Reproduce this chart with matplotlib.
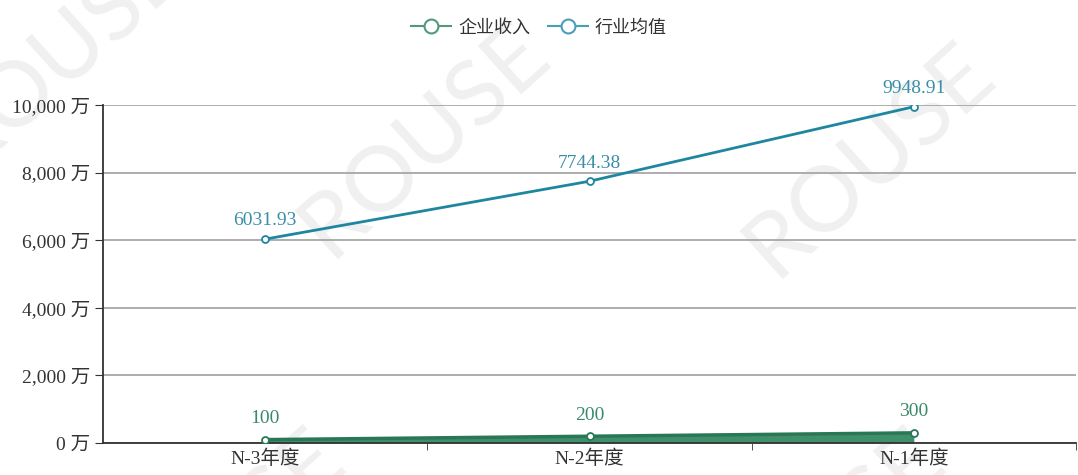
import matplotlib
matplotlib.use("Agg")
import matplotlib.pyplot as plt
from matplotlib.lines import Line2D
from matplotlib.ticker import FuncFormatter

categories = ["N-3年度", "N-2年度", "N-1年度"]
company = [100, 200, 300]
industry = [6031.93, 7744.38, 9948.91]
y_ticks = [0, 2000, 4000, 6000, 8000, 10000]
series_names = ["企业收入", "行业均值"]

GREEN = "#2a7755"
GREEN_FILL = "#3f8f6d"
BLUE = "#1f86a0"
FONT = ["Liberation Serif", "Noto Sans CJK SC"]
CJK = ["Noto Sans CJK SC", "DejaVu Sans"]

fig = plt.figure(figsize=(10.78, 4.75), dpi=100)
ax = fig.add_axes([103 / 1078, 1 - 443 / 475, 973 / 1078, 338 / 475])

# watermark, behind everything
for x, y in [(60, 55), (425, 140), (870, 160), (220, 545), (820, 545)]:
    fig.text(x / 1078, 1 - y / 475, "ROUSE", fontsize=66, color="#f0f0f0", rotation=42,
             ha="center", va="center", family="Lato", zorder=-1)

xs = range(len(categories))
ax.fill_between(xs, 0, company, color=GREEN_FILL, zorder=2, lw=0)
ax.plot(xs, company, color=GREEN, lw=2.5, marker="o", ms=5, mfc="white",
        mec=GREEN, mew=1.3, zorder=4)
ax.plot(xs, industry, color=BLUE, lw=2, marker="o", ms=5, mfc="white",
        mec=BLUE, mew=1.3, zorder=4)

for i, v in enumerate(company):
    ax.annotate(f"{v}", (i, v), xytext=(0, 9), textcoords="offset points",
                ha="center", va="bottom", color="#3a8a6a", fontsize=14, family=FONT)
for i, v in enumerate(industry):
    ax.annotate(f"{v:.2f}", (i, v), xytext=(0, 7), textcoords="offset points",
                ha="center", va="bottom", color="#3a8fa8", fontsize=14, family=FONT)

ax.set_xlim(-0.5, len(categories) - 0.5)
ax.set_ylim(0, 10000)
ax.set_yticks(y_ticks)
ax.yaxis.set_major_formatter(FuncFormatter(lambda v, p: f"{int(v):,} 万"))
ax.set_xticks(list(xs))
ax.set_xticklabels(categories)
ax.set_xticks([0.5, 1.5, 2.5], minor=True)
ax.tick_params(axis="x", which="major", length=0, pad=5)
ax.tick_params(axis="x", which="minor", length=5, color="#333333")
ax.tick_params(axis="y", length=6, color="#333333", pad=3)
for lbl in ax.get_xticklabels() + ax.get_yticklabels():
    lbl.set_family(FONT)
    lbl.set_fontsize(14)
    lbl.set_color("#333333")

ax.grid(axis="y", color="#a0a0a0", lw=1.2, zorder=1)
ax.set_axisbelow(True)
for s in ("top", "right"):
    ax.spines[s].set_visible(False)
for s in ("left", "bottom"):
    ax.spines[s].set_color("#333333")
    ax.spines[s].set_linewidth(1.3)
ax.patch.set_alpha(0)

handles = [Line2D([], [], color=c, lw=1.5, marker="o", ms=10, mfc="white", mec=c, mew=1.5)
           for c in ("#4f9a7c", "#4a9fb8")]
leg = fig.legend(handles, series_names, loc="upper center", bbox_to_anchor=(0.5, 0.995),
                 ncol=2, frameon=False, prop={"family": CJK, "size": 13}, handlelength=2.2,
                 columnspacing=1.0, handletextpad=0.4)
for t in leg.get_texts():
    t.set_color("#333333")

fig.savefig("out.png", dpi=100)
